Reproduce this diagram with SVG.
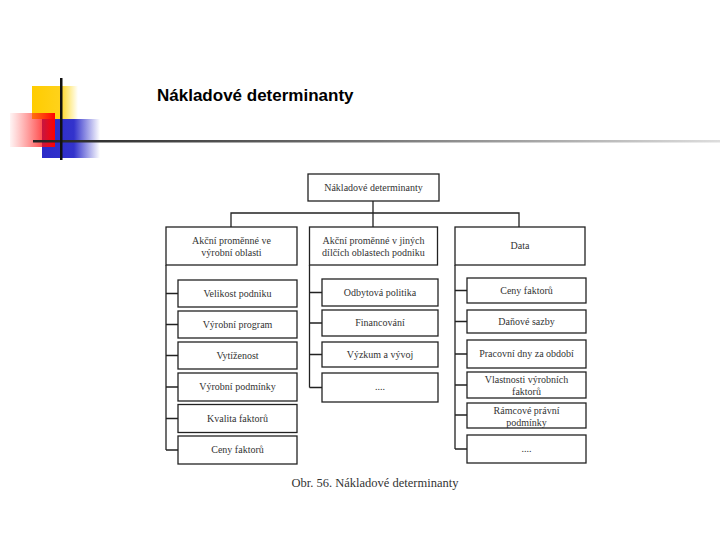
<svg xmlns="http://www.w3.org/2000/svg" width="720" height="540" viewBox="0 0 720 540">
<defs>
<linearGradient id="gY" x1="0" y1="0" x2="1" y2="0"><stop offset="0" stop-color="#ffcc00"/><stop offset="0.6" stop-color="#ffd21a"/><stop offset="1" stop-color="#ffd700" stop-opacity="0"/></linearGradient>
<linearGradient id="gR" x1="0" y1="0" x2="1" y2="0"><stop offset="0" stop-color="#ff3030" stop-opacity="0.05"/><stop offset="1" stop-color="#ff0000"/></linearGradient>
<linearGradient id="gB" x1="0" y1="0" x2="1" y2="0"><stop offset="0" stop-color="#2a2ac8"/><stop offset="0.55" stop-color="#3333cc"/><stop offset="1" stop-color="#3333cc" stop-opacity="0"/></linearGradient>
<linearGradient id="gL" x1="0" y1="0" x2="1" y2="0"><stop offset="0" stop-color="#222"/><stop offset="0.5" stop-color="#777"/><stop offset="1" stop-color="#ddd"/></linearGradient>
<style>
.b{fill:#fff;stroke:#222;stroke-width:1.3}
.t{font-family:"Liberation Serif","Times New Roman",serif;font-size:10px;fill:#333;text-anchor:middle}
.c{fill:none;stroke:#222;stroke-width:1.3}
</style>
</defs>
<g id="decor">
<rect x="32" y="86" width="46" height="33" fill="url(#gY)"/>
<rect x="42" y="119" width="58" height="39" fill="url(#gB)"/>
<rect x="10" y="113" width="45" height="34" fill="url(#gR)"/>
<rect x="33" y="140" width="687" height="2.5" fill="url(#gL)"/>
<rect x="60" y="78" width="2.5" height="82" fill="#111"/>
</g>
<text x="157" y="101" font-family="Liberation Sans, Arial, sans-serif" font-size="17" font-weight="bold" fill="#000">Nákladové determinanty</text>
<g id="connectors">
<path class="c" d="M373 201V227M231 227V213H519V227"/>
<path class="c" d="M166 265V450M166 293.5H178M166 324.5H178M166 355.5H178M166 387H178M166 418.5H178M166 450H178"/>
<path class="c" d="M309.5 265V387.5M309.5 292.5H322M309.5 323H322M309.5 354.5H322M309.5 387.5H322"/>
<path class="c" d="M455 265V449M455 290.5H467M455 321.5H467M455 354H467M455 385H467M455 415H467M455 449H467"/>
</g>
<g id="root"><rect class="b" x="308" y="174" width="131" height="27"/><text class="t" x="373.5" y="191">Nákladové determinanty</text></g>
<g id="h1"><rect class="b" x="166" y="227" width="131" height="38"/><text class="t" x="231.5" y="244">Akční proměnné ve</text><text class="t" x="231.5" y="256">výrobní oblasti</text></g>
<g id="h2"><rect class="b" x="309.5" y="227" width="128" height="38"/><text class="t" x="373.5" y="244">Akční proměnné v jiných</text><text class="t" x="373.5" y="256">dílčích oblastech podniku</text></g>
<g id="h3"><rect class="b" x="455" y="227" width="130" height="38"/><text class="t" x="520" y="249">Data</text></g>
<g id="c1a"><rect class="b" x="178" y="280" width="119" height="27"/><text class="t" x="237.5" y="297">Velikost podniku</text></g>
<g id="c1b"><rect class="b" x="178" y="311" width="119" height="27"/><text class="t" x="237.5" y="328">Výrobní program</text></g>
<g id="c1c"><rect class="b" x="178" y="342" width="119" height="27"/><text class="t" x="237.5" y="359">Vytíženost</text></g>
<g id="c1d"><rect class="b" x="178" y="373" width="119" height="28"/><text class="t" x="237.5" y="390">Výrobní podmínky</text></g>
<g id="c1e"><rect class="b" x="178" y="404.5" width="119" height="28"/><text class="t" x="237.5" y="422">Kvalita faktorů</text></g>
<g id="c1f"><rect class="b" x="178" y="436" width="119" height="28"/><text class="t" x="237.5" y="453">Ceny faktorů</text></g>
<g id="c2a"><rect class="b" x="322" y="279" width="116" height="27"/><text class="t" x="380" y="296">Odbytová politika</text></g>
<g id="c2b"><rect class="b" x="322" y="310" width="116" height="26"/><text class="t" x="380" y="326">Financování</text></g>
<g id="c2c"><rect class="b" x="322" y="342" width="116" height="25"/><text class="t" x="380" y="358">Výzkum a vývoj</text></g>
<g id="c2d"><rect class="b" x="322" y="373" width="116" height="29"/><text class="t" x="380" y="390">....</text></g>
<g id="c3a"><rect class="b" x="467" y="278" width="119" height="25"/><text class="t" x="526.5" y="294">Ceny faktorů</text></g>
<g id="c3b"><rect class="b" x="467" y="310" width="119" height="23"/><text class="t" x="526.5" y="325">Daňové sazby</text></g>
<g id="c3c"><rect class="b" x="467" y="340" width="119" height="28"/><text class="t" x="526.5" y="357">Pracovní dny za období</text></g>
<g id="c3d"><rect class="b" x="467" y="372" width="119" height="26"/><text class="t" x="526.5" y="383">Vlastnosti výrobních</text><text class="t" x="526.5" y="395">faktorů</text></g>
<g id="c3e"><rect class="b" x="467" y="403" width="119" height="25"/><text class="t" x="526.5" y="414">Rámcové právní</text><text class="t" x="526.5" y="426">podmínky</text></g>
<g id="c3f"><rect class="b" x="467" y="435" width="119" height="28"/><text class="t" x="526.5" y="452">....</text></g>
<text x="375" y="487" font-family="Liberation Serif, Times New Roman, serif" font-size="12.5" fill="#333" text-anchor="middle">Obr. 56. Nákladové determinanty</text>
</svg>
